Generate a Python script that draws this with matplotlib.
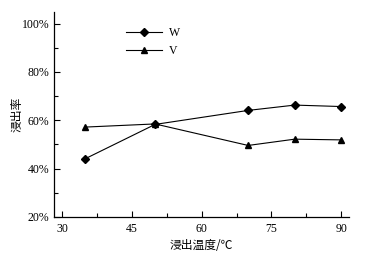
import matplotlib
matplotlib.use('Agg')
import matplotlib.pyplot as plt
from matplotlib.ticker import MultipleLocator, FuncFormatter

temps = [35, 50, 70, 80, 90]
w_rate = [44.1, 58.3, 64.1, 66.3, 65.7]
v_rate = [57.2, 58.5, 49.6, 52.2, 51.9]
x_ticks = [30, 45, 60, 75, 90]
y_ticks = [20, 40, 60, 80, 100]

plt.rcParams['font.family'] = ['Liberation Serif', 'Noto Sans CJK SC']
plt.rcParams['font.size'] = 8.5

fig = plt.figure(figsize=(3.91, 2.63), dpi=100)
ax = fig.add_axes([0.137, 0.175, 0.756, 0.781])

ax.plot(temps, w_rate, color='black', lw=0.8, marker='D', ms=4, label='W')
ax.plot(temps, v_rate, color='black', lw=0.8, marker='^', ms=5, label='V')

ax.set_xlim(28.2, 91.7)
ax.set_ylim(20, 105)
ax.set_xticks(x_ticks)
ax.set_yticks(y_ticks)
ax.xaxis.set_minor_locator(MultipleLocator(7.5))
ax.yaxis.set_minor_locator(MultipleLocator(10))
ax.yaxis.set_major_formatter(FuncFormatter(lambda v, p: f'{int(v)}%'))
ax.tick_params(which='both', direction='in', width=0.8, colors='black')
ax.tick_params(which='major', length=4)
ax.tick_params(which='minor', length=3)
ax.tick_params(axis='x', pad=4)
ax.tick_params(axis='y', pad=3)

for s in ['top', 'right']:
    ax.spines[s].set_visible(False)
for s in ['left', 'bottom']:
    ax.spines[s].set_linewidth(0.9)

ax.set_xlabel('浸出温度/℃', family=['Noto Sans CJK SC', 'DejaVu Sans'], fontsize=8.5, labelpad=3)
ax.set_ylabel('浸出率', family=['Noto Sans CJK SC'], fontsize=8.5)
ax.yaxis.set_label_coords(-0.1, 0.5)

ax.legend(loc='upper left', bbox_to_anchor=(0.21, 0.975), frameon=False,
          handlelength=3.0, labelspacing=0.5, handletextpad=0.6)

fig.savefig('out.png', dpi=100, facecolor='white')
